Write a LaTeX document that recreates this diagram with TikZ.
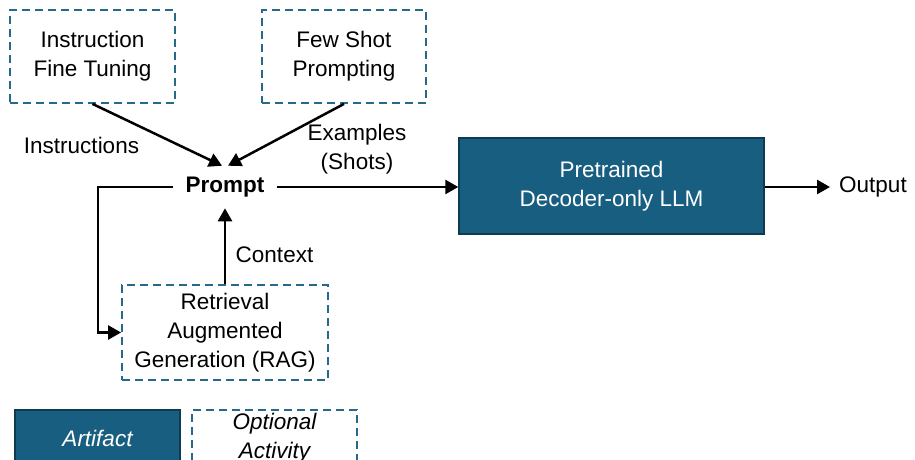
\documentclass[tikz,border=0pt]{standalone}
\usepackage{fontspec}
\setmainfont{Liberation Sans}
\usetikzlibrary{arrows.meta}
\definecolor{artfill}{HTML}{185E80}
\definecolor{artdraw}{HTML}{0E3B50}
\definecolor{optdraw}{HTML}{26698B}
\tikzset{
  txt/.style={font=\fontsize{22.5}{29}\selectfont, align=center, text=black},
  optbox/.style={txt, draw=optdraw, line width=1.8pt, dash pattern=on 8pt off 5pt, inner sep=0pt},
  artbox/.style={txt, fill=artfill, draw=artdraw, line width=1.4pt, text=white, inner sep=0pt},
  arr/.style={line width=2.5pt, -{Triangle[length=13pt,width=14pt]}},
  lbl/.style={txt, inner sep=0pt}
}
\begin{document}
\begin{tikzpicture}[x=1pt,y=1pt]
\useasboundingbox (0,0) rectangle (915,460);
\clip (0,0) rectangle (915,460);
% boxes
\node[optbox, minimum width=165pt, minimum height=93pt] (ift) at (92.5,403.5) {Instruction\\Fine Tuning};
\node[optbox, minimum width=164pt, minimum height=93pt] (fsp) at (344,403.5) {Few Shot\\Prompting};
\node[txt, font=\fontsize{22.5}{29}\selectfont\bfseries, inner xsep=12pt, inner ysep=11pt] (prompt) at (225,273) {Prompt};
\node[artbox, minimum width=305pt, minimum height=96pt] (llm) at (611.5,274) {Pretrained\\Decoder-only LLM};
\node[txt, anchor=west, inner xsep=9pt, inner ysep=0pt] (out) at (830,273) {Output};
\node[optbox, minimum width=206pt, minimum height=95pt] (rag) at (225,127.5) {Retrieval\\Augmented\\Generation (RAG)};
% labels
\node[lbl] (linstr) at (81.5,315) {Instructions};
\node[lbl] (lex) at (357,311) {Examples\\(Shots)};
\node[lbl] (lctx) at (274.5,205) {Context};
% legend
\node[artbox, minimum width=165pt, minimum height=56pt, font=\fontsize{22.5}{29}\selectfont\itshape] (lart) at (97.5,22) {Artifact};
\node[optbox, minimum width=165pt, minimum height=56pt, font=\fontsize{22.5}{29}\selectfont\itshape] (lopt) at (274.5,22) {Optional\\Activity};
% connectors
\coordinate (loopx) at (98,0);
\draw[arr] (ift.south) -- ([xshift=-3pt]prompt.north);
\draw[arr] (fsp.south) -- ([xshift=3pt]prompt.north);
\draw[arr] (prompt.east) -- (prompt.east -| llm.west);
\draw[arr] (llm.east |- out.west) -- (out.west);
\draw[arr] (rag.north) -- (prompt.south);
\draw[arr] (prompt.west) -- (prompt.west -| loopx) |- (rag.west);
\end{tikzpicture}
\end{document}
